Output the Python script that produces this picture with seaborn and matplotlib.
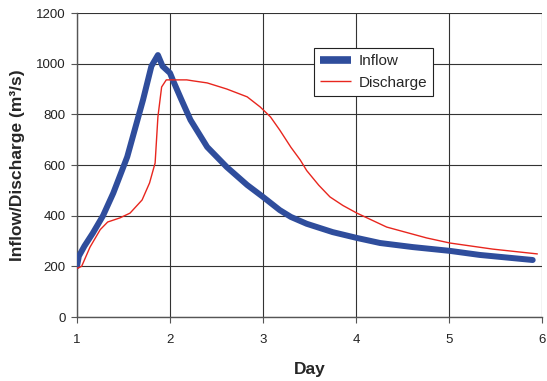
import matplotlib
matplotlib.use("Agg")
import matplotlib.pyplot as plt
import seaborn as sns
import pandas as pd

inflow_day = [1.0, 1.02, 1.08, 1.17, 1.28, 1.39, 1.54, 1.71, 1.80, 1.87, 1.92, 2.0, 2.03, 2.12, 2.22, 2.40, 2.61, 2.83, 3.0, 3.18, 3.30, 3.47, 3.75, 4.01, 4.26, 4.61, 5.01, 5.33, 5.9]
inflow_val = [200, 240, 280, 331, 400, 489, 632, 857, 990, 1034, 990, 963, 936, 860, 778, 671, 592, 521, 474, 422, 395, 368, 335, 312, 292, 276, 261, 245, 225]

dis_day = [1.0, 1.05, 1.14, 1.25, 1.33, 1.46, 1.57, 1.70, 1.78, 1.84, 1.87, 1.91, 1.96, 2.18, 2.25, 2.40, 2.61, 2.83, 2.97, 3.08, 3.18, 3.30, 3.40, 3.47, 3.60, 3.72, 3.86, 4.01, 4.33, 4.76, 5.01, 5.47, 5.95]
dis_val = [192, 200, 276, 345, 375, 391, 410, 462, 529, 608, 790, 908, 936, 936, 932, 924, 900, 869, 829, 790, 738, 670, 620, 578, 520, 474, 440, 410, 355, 312, 292, 268, 249]

x_ticks = [1, 2, 3, 4, 5, 6]
y_ticks = [0, 200, 400, 600, 800, 1000, 1200]

sns.set_style("white")
plt.rcParams['font.family'] = ['Liberation Sans', 'DejaVu Sans']

fig = plt.figure(figsize=(5.47, 3.81), dpi=100)
ax = fig.add_axes([77/547, 1-317/381, (542-77)/547, (317-13)/381])

df_in = pd.DataFrame({"Day": inflow_day, "Value": inflow_val})
df_dis = pd.DataFrame({"Day": dis_day, "Value": dis_val})
sns.lineplot(data=df_in, x="Day", y="Value", ax=ax, color="#2F4D9C", linewidth=4.3, label="Inflow", zorder=3)
sns.lineplot(data=df_dis, x="Day", y="Value", ax=ax, color="#E8261E", linewidth=1.0, label="Discharge", zorder=4)

ax.set_xlim(1, 6)
ax.set_ylim(0, 1200)
ax.set_xticks(x_ticks)
ax.set_yticks(y_ticks)
ax.grid(True, color="#333333", linewidth=0.8)
ax.set_axisbelow(True)
for s in ["top", "right"]:
    ax.spines[s].set_visible(False)
for s in ["left", "bottom"]:
    ax.spines[s].set_color("#555555")
    ax.spines[s].set_linewidth(1.0)
ax.tick_params(axis="both", direction="out", length=4, width=0.8, color="#555555", labelsize=9.5,
               labelcolor="#222222", bottom=True, left=True)
ax.tick_params(axis="x", pad=8)
ax.tick_params(axis="y", pad=4)
ax.set_xlabel("Day", fontsize=12.5, fontweight="bold", labelpad=12)
ax.set_ylabel("Inflow/Discharge (m³/s)", fontsize=12.5, fontweight="bold", labelpad=8)

leg = ax.legend(loc="upper left", bbox_to_anchor=((314-77)/465, (317-48)/304), borderaxespad=0,
                frameon=True, fancybox=False, edgecolor="#222222", fontsize=11, handlelength=2.0,
                handletextpad=0.5, borderpad=0.4, labelspacing=0.5, framealpha=1)
leg.get_frame().set_linewidth(0.8)
for h in leg.get_lines():
    h.set_solid_capstyle("butt")
    if h.get_label() == "Inflow":
        h.set_linewidth(5.5)

fig.savefig("out.png", dpi=100)
